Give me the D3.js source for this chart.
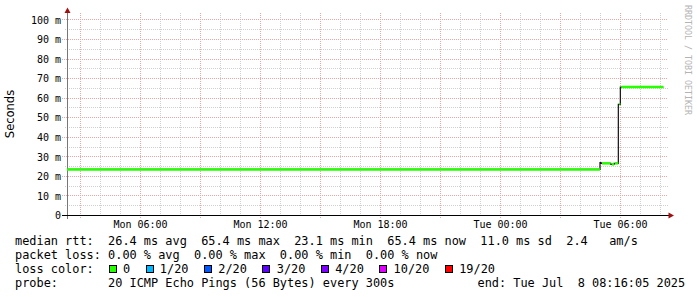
<!DOCTYPE html>
<html>
<head>
<meta charset="utf-8">
<script src="https://cdn.jsdelivr.net/npm/d3@7"></script>
<style>
  body { margin: 0; background: #fff; }
  svg { display: block; }
  text { white-space: pre; }
</style>
</head>
<body>
<script>
// median rtt steps: edges has one more entry than values
var medianEdges = ["2025-07-07T02:21", "2025-07-08T05:00", "2025-07-08T05:03", "2025-07-08T05:32",
                   "2025-07-08T05:42", "2025-07-08T05:55", "2025-07-08T06:01", "2025-07-08T08:10"];
var medianValues = [23.3, 26.8, 26.4, 25.9, 26.4, 56.6, 65.4];

var timeRange = ["2025-07-07T02:21", "2025-07-08T08:21"];
var yTicks = [0, 10, 20, 30, 40, 50, 60, 70, 80, 90, 100];

var statsLines = [
  "median rtt:  26.4 ms avg  65.4 ms max  23.1 ms min  65.4 ms now  11.0 ms sd  2.4   am/s",
  "packet loss: 0.00 % avg  0.00 % max  0.00 % min  0.00 % now"
];
var lossLabels = ["0", "1/20", "2/20", "3/20", "4/20", "10/20", "19/20"];
var lossColors = ["#26ff00", "#00b8ff", "#0059ff", "#5e00ff", "#7e00ff", "#dd00ff", "#ff0000"];
var probeText = "probe:       20 ICMP Echo Pings (56 Bytes) every 300s";
var endText = "end: Tue Jul  8 08:16:05 2025";

var width = 697, height = 297;
var plotLeft = 67, plotRight = 667, plotTop = 13, plotBottom = 215;
var mono = "'DejaVu Sans Mono', monospace";
var charW = 7.16;

var parse = d3.timeParse("%Y-%m-%dT%H:%M");

var x = d3.scaleTime()
  .domain(timeRange.map(parse))
  .range([plotLeft, plotRight]);

var y = d3.scaleLinear()
  .domain([0, 100])
  .range([plotBottom, 19.4]);

var svg = d3.select("body").append("svg")
  .attr("width", width)
  .attr("height", height);

var px = function(v) { return Math.round(v) + 0.5; };

// minor grid
var minorH = d3.range(5, 101, 10);
svg.append("g").selectAll("line").data(minorH).join("line")
  .attr("x1", plotLeft - 2).attr("x2", plotRight + 1)
  .attr("y1", function(d) { return px(y(d)); })
  .attr("y2", function(d) { return px(y(d)); })
  .attr("stroke", "#cfcfcf").attr("stroke-dasharray", "1,1");

var hours = x.ticks(d3.timeHour.every(1)).filter(function(d) { return d.getHours() % 3 !== 0; });
svg.append("g").selectAll("line").data(hours).join("line")
  .attr("x1", function(d) { return px(x(d)); })
  .attr("x2", function(d) { return px(x(d)); })
  .attr("y1", plotTop).attr("y2", plotBottom + 2)
  .attr("stroke", "#cfcfcf").attr("stroke-dasharray", "1,1");

// major grid
svg.append("g").selectAll("line").data(yTicks.slice(1)).join("line")
  .attr("x1", plotLeft - 5).attr("x2", plotRight + 1)
  .attr("y1", function(d) { return px(y(d)); })
  .attr("y2", function(d) { return px(y(d)); })
  .attr("stroke", "#e8a8a8").attr("stroke-dasharray", "1,1");

var threeHours = x.ticks(d3.timeHour.every(3));
svg.append("g").selectAll("line").data(threeHours).join("line")
  .attr("x1", function(d) { return px(x(d)); })
  .attr("x2", function(d) { return px(x(d)); })
  .attr("y1", plotTop).attr("y2", plotBottom + 4)
  .attr("stroke", "#e8a8a8").attr("stroke-dasharray", "1,1");

// y axis labels
var yAxis = d3.axisLeft(y)
  .tickValues(yTicks)
  .tickSize(0)
  .tickPadding(6)
  .tickFormat(function(d) { return d === 0 ? "0" : d + " m"; });

svg.append("g")
  .attr("transform", "translate(" + plotLeft + ",0.5)")
  .call(yAxis)
  .call(function(g) { g.select(".domain").remove(); })
  .selectAll("text")
  .attr("font-family", mono).attr("font-size", 10).attr("fill", "#000");

// x axis labels
var xAxis = d3.axisBottom(x)
  .ticks(d3.timeHour.every(6))
  .tickSize(0)
  .tickPadding(6)
  .tickFormat(d3.timeFormat("%a %H:%M"));

svg.append("g")
  .attr("transform", "translate(0," + plotBottom + ")")
  .call(xAxis)
  .call(function(g) { g.select(".domain").remove(); })
  .selectAll("text")
  .attr("font-family", mono).attr("font-size", 10).attr("fill", "#000");

// axes + arrows
svg.append("line")
  .attr("x1", plotLeft + 0.5).attr("x2", plotLeft + 0.5)
  .attr("y1", plotBottom + 4).attr("y2", 11)
  .attr("stroke", "#777");
svg.append("line")
  .attr("x1", plotLeft - 5).attr("x2", plotRight + 3)
  .attr("y1", plotBottom + 0.5).attr("y2", plotBottom + 0.5)
  .attr("stroke", "#000");
svg.append("path")
  .attr("d", "M" + (plotLeft + 0.5) + ",7.5 L" + (plotLeft + 3.5) + ",13 L" + (plotLeft - 2.5) + ",13 Z")
  .attr("fill", "#a01010");
svg.append("path")
  .attr("d", "M" + (plotRight + 7) + "," + (plotBottom + 0.5) + " L" + (plotRight + 1.5) + "," + (plotBottom - 2.5) +
        " L" + (plotRight + 1.5) + "," + (plotBottom + 3.5) + " Z")
  .attr("fill", "#a01010");

// median line: black steps underneath, loss coloured segments on top
var steps = medianValues.map(function(v, i) {
  return { t0: parse(medianEdges[i]), t1: parse(medianEdges[i + 1]), v: v };
});
var stepPoints = [];
steps.forEach(function(s) { stepPoints.push([x(s.t0), y(s.v)]); });
stepPoints.push([x(steps[steps.length - 1].t1), y(steps[steps.length - 1].v)]);

svg.append("path")
  .attr("d", d3.line().curve(d3.curveStepAfter)(stepPoints))
  .attr("fill", "none")
  .attr("stroke", "#111")
  .attr("stroke-width", 1.2);

svg.append("g").selectAll("line").data(steps).join("line")
  .attr("x1", function(d, i) { return x(d.t0) + (i === 0 ? 0 : 1); })
  .attr("x2", function(d) { return x(d.t1); })
  .attr("y1", function(d) { return y(d.v); })
  .attr("y2", function(d) { return y(d.v); })
  .attr("stroke", lossColors[0])
  .attr("stroke-width", 2.5);

// y title
svg.append("text")
  .attr("transform", "translate(14,114) rotate(-90)")
  .attr("text-anchor", "middle")
  .attr("font-family", "'DejaVu Sans', sans-serif")
  .attr("font-size", 11.5)
  .text("Seconds");

// watermark
svg.append("text")
  .attr("transform", "translate(685,5) rotate(90)")
  .attr("font-family", mono)
  .attr("font-size", 8.3)
  .attr("fill", "#b4b4b4")
  .text("RRDTOOL / TOBI OETIKER");

// legend text
var legendX = 15, legendY = 244.5, lineGap = 14;
statsLines.forEach(function(s, i) {
  svg.append("text")
    .attr("x", legendX).attr("y", legendY + i * lineGap)
    .attr("font-family", mono).attr("font-size", 11.9)
    .text(s);
});

svg.append("text")
  .attr("x", legendX).attr("y", legendY + 2 * lineGap)
  .attr("font-family", mono).attr("font-size", 11.9)
  .text("loss color:");

var bx = legendX + 13 * charW + 0.5;
lossLabels.forEach(function(lab, i) {
  svg.append("rect")
    .attr("x", Math.round(bx) + 0.5).attr("y", legendY + 2 * lineGap - 7)
    .attr("width", 7).attr("height", 7)
    .attr("fill", lossColors[i])
    .attr("stroke", "#000");
  svg.append("text")
    .attr("x", bx + 14.3).attr("y", legendY + 2 * lineGap)
    .attr("font-family", mono).attr("font-size", 11.9)
    .text(lab);
  bx = bx + 14.3 + lab.length * charW + 15.5;
});

svg.append("text")
  .attr("x", legendX).attr("y", legendY + 3 * lineGap)
  .attr("font-family", mono).attr("font-size", 11.9)
  .text(probeText);
svg.append("text")
  .attr("x", 477.5).attr("y", legendY + 3 * lineGap)
  .attr("font-family", mono).attr("font-size", 11.9)
  .text(endText);
</script>
</body>
</html>
